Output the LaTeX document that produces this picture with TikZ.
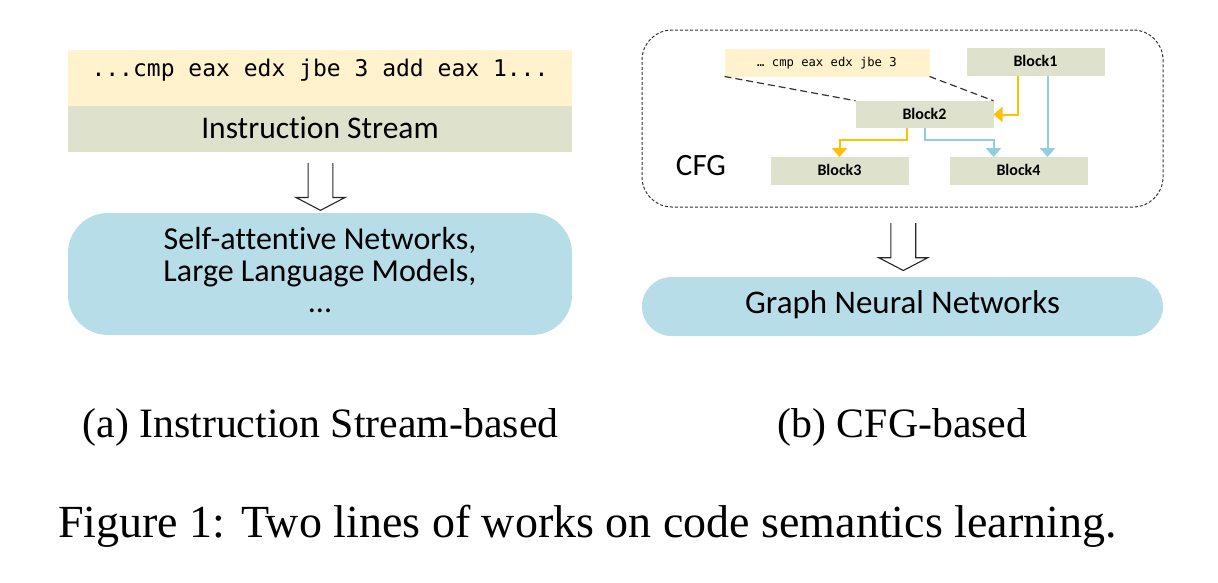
\documentclass[tikz,border=0pt]{standalone}
\usepackage{fontspec}
\setmainfont{Liberation Serif}
\newfontfamily\carlito[Ligatures=CommonOff]{Carlito}
\newfontfamily\monof{DejaVu Sans Mono}
\usetikzlibrary{arrows.meta,calc}
\definecolor{codeyellow}{HTML}{FFF2CC}
\definecolor{blockgreen}{HTML}{DEE2CC}
\definecolor{modelblue}{HTML}{B7DEE8}
\definecolor{edgeorange}{HTML}{FFC000}
\definecolor{edgeblue}{HTML}{92CDDC}
\newcommand\hollowdown[1]{\draw[hollow] ($(#1)+(-12.4,0)$) -- ++(0,34.5) -- ++(-12.1,0) -- ++(24.5,12.8) -- ++(24.5,-12.8) -- ++(-12.1,0) -- ++(0,-34.5);}
\begin{document}
\begin{tikzpicture}[x=1pt,y=-1pt,
  box/.style={draw=none, inner sep=0pt, outer sep=0pt},
  codebar/.style={box, fill=codeyellow},
  greenbar/.style={box, fill=blockgreen},
  blockbox/.style={box, fill=blockgreen, minimum width=138pt, text height=18.5pt, text depth=9pt, font=\carlito\bfseries\fontsize{16}{18}\selectfont},
  modelbox/.style={box, fill=modelblue},
  sanslabel/.style={font=\carlito\fontsize{31.5}{31.5}\selectfont, inner sep=0pt},
  hollow/.style={draw=black!85, line width=1.1pt, line join=miter},
  flow/.style={line width=2pt, -{Triangle[width=15pt,length=9pt]}},
  calldash/.style={draw=black!80, line width=1.2pt, dash pattern=on 7pt off 4pt},
  cfgframe/.style={draw=black!80, line width=1pt, dash pattern=on 3pt off 2pt, rounded corners=30pt, inner sep=0pt},
  caption/.style={inner sep=0pt, anchor=base},
]
\useasboundingbox (0,0) rectangle (1218,582);

% ---------- (a) instruction stream ----------
\node[codebar, minimum width=504pt, text height=26pt, text depth=30pt,
      font=\monof\fontsize{23}{26}\selectfont] (code) at (320,78)
      {...cmp eax edx jbe 3 add eax 1...};
\node[greenbar, sanslabel, minimum width=504pt, text height=32.3pt, text depth=13.7pt] (stream) at (320,129)
      {Instruction Stream};
\node[modelbox, minimum width=504pt, minimum height=122pt, rounded corners=40pt] (lm) at (320,274) {};
\node[sanslabel, font=\carlito\fontsize{32}{31.5}\selectfont, align=center] (lmtext) at ($(lm.center)+(0,-3.5)$)
      {Self-attentive Networks,\\Large Language Models,\\...};
\coordinate (lt) at ($(stream.south)+(0.5,11)$);
\hollowdown{lt}

% ---------- (b) CFG ----------
\node[cfgframe, minimum width=521pt, minimum height=177pt] (cfg) at (902.5,118.5) {};
\node[sanslabel, font=\carlito\fontsize{31}{31}\selectfont] (cfglabel) at (701,166) {CFG};
\node[codebar, minimum width=205pt, text height=17.6pt, text depth=10.2pt,
      font=\monof\fontsize{12.2}{14}\selectfont] (small) at (827,62.6) {… cmp eax edx jbe 3};
\node[blockbox] (b1) at (1035.5,62.2) {Block1};
\node[blockbox] (b2) at (924.5,114.5) {Block2};
\node[blockbox] (b3) at (839.5,170.8) {Block3};
\node[blockbox] (b4) at (1018.5,170.8) {Block4};

\draw[calldash] (small.south west) -- (b2.north west);
\draw[calldash] (small.south east) -- (b2.north east);

\coordinate (b1o) at ($(b1.south west)+(51.5,0)$);
\coordinate (b1b) at ($(b1.south west)+(81,0)$);
\coordinate (b2o) at ($(b2.south)+(-18,0)$);
\coordinate (split) at ($(b2.south)+(0,12)$);
\coordinate (b4in) at (b2.east |- b4.north);

\draw[flow, edgeorange] (b1o) |- (b2.east);
\draw[flow, edgeblue] (b1b) -- (b1b |- b4.north);
\draw[flow, edgeorange] (b2o) |- (split -| b3.north) -- (b3.north);
\draw[flow, edgeblue] (b2.south) |- (b4in |- split) -- (b4in);

\coordinate (rt) at ($(cfg.south)+(0.8,15.7)$);
\hollowdown{rt}

\node[modelbox, sanslabel, font=\carlito\fontsize{33}{33}\selectfont, minimum width=521pt, text height=36pt, text depth=23pt, rounded corners=29.5pt] (gnn) at (902.5,306.5)
      {Graph Neural Networks};

% ---------- captions ----------
\node[caption, font=\fontsize{41.8}{44}\selectfont] (capa) at (320.5,437) {(a) Instruction Stream-based};
\node[caption, font=\fontsize{41.8}{44}\selectfont] (capb) at (902.5,437) {(b) CFG-based};
\node[caption, font=\fontsize{46}{48}\selectfont] (figcap) at (587.5,537) {Figure 1: Two lines of works on code semantics learning.};
\end{tikzpicture}
\end{document}
